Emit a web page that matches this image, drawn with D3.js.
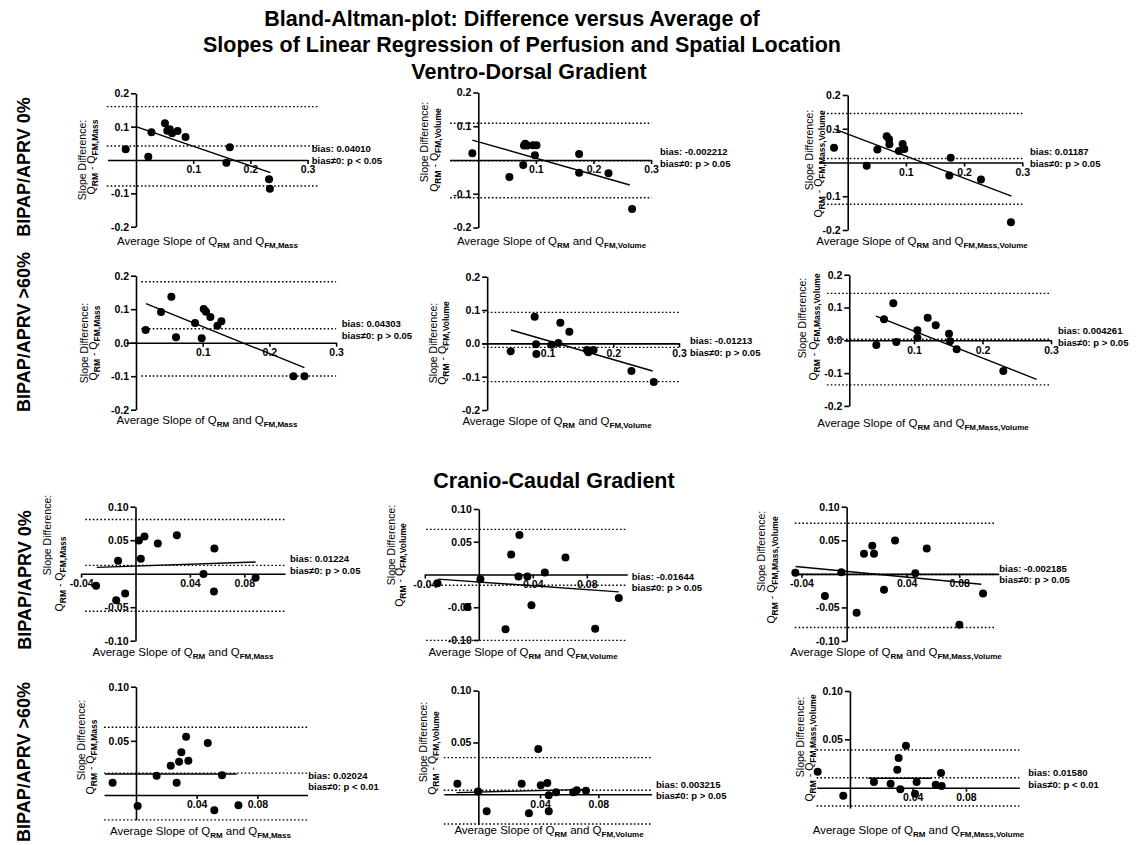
<!DOCTYPE html>
<html>
<head>
<meta charset="utf-8">
<script src="https://cdn.jsdelivr.net/npm/d3@7"></script>
<style>
  body { margin: 0; background: #fff; }
  svg text { font-family: "Liberation Sans", Arial, Helvetica, sans-serif; fill: #000; }
</style>
</head>
<body>
<div id="chart"></div>
<script>
// ---- Data: [average slope, slope difference] per subject ----
const vd0Mass = [[-0.018, 0.032], [0.0215, 0.010], [0.027, 0.083], [0.0506, 0.110], [0.0547, 0.088], [0.059, 0.092], [0.063, 0.080], [0.0727, 0.087], [0.0866, 0.069], [0.158, -0.008], [0.164, 0.038], [0.2326, -0.058], [0.234, -0.086]];
const vd0Volume = [[-0.0104, 0.0198], [0.054, -0.050], [0.078, -0.015], [0.0793, 0.043], [0.0815, 0.048], [0.085, 0.043], [0.095, 0.044], [0.101, 0.044], [0.0983, 0.0139], [0.175, 0.0178], [0.175, -0.0376], [0.226, -0.0396], [0.267, -0.1455]];
const vd0MassVolume = [[-0.0235, 0.0435], [0.0326, -0.0099], [0.051, 0.0385], [0.067, 0.078], [0.071, 0.069], [0.0716, 0.054], [0.088, 0.034], [0.0944, 0.055], [0.0973, 0.040], [0.177, 0.0138], [0.1746, -0.0385], [0.229, -0.050], [0.2805, -0.177]];
const vd60Mass = [[0.0145, 0.038], [0.0375, 0.0915], [0.053, 0.137], [0.06, 0.016], [0.0885, 0.059], [0.0985, 0.013], [0.1015, 0.1005], [0.105, 0.0925], [0.1115, 0.0766], [0.122, 0.0507], [0.128, 0.0637], [0.236, -0.1005], [0.2525, -0.1005]];
const vd60Volume = [[0.0438, -0.024], [0.0803, 0.080], [0.0824, -0.003], [0.0829, -0.032], [0.1062, -0.004], [0.1164, 0.001], [0.1194, 0.062], [0.1331, 0.035], [0.160, -0.020], [0.162, -0.027], [0.170, -0.020], [0.2276, -0.083], [0.2616, -0.116]];
const vd60MassVolume = [[0.045, -0.014], [0.0562, 0.064], [0.0698, 0.1127], [0.0742, -0.005], [0.1049, 0.0305], [0.1049, 0.008], [0.120, 0.069], [0.1317, 0.0457], [0.1511, 0.0203], [0.1526, -0.003], [0.1623, -0.0274], [0.2304, -0.0934]];
const cc0Mass = [[-0.029, -0.018], [-0.0142, -0.0395], [-0.0128, 0.0195], [-0.0076, -0.0295], [0.0025, 0.0495], [0.0039, 0.0225], [0.0066, 0.0555], [0.0164, 0.045], [0.0304, 0.0575], [0.050, -0.0005], [0.058, 0.0375], [0.0577, -0.0265], [0.0883, -0.006]];
const cc0Volume = [[-0.0306, -0.0133], [-0.0086, -0.0495], [0.0012, -0.0071], [0.0198, -0.0837], [0.024, 0.0306], [0.0294, -0.0031], [0.0301, 0.0602], [0.036, -0.0031], [0.039, -0.0469], [0.0489, 0.0031], [0.0642, 0.026], [0.0862, -0.0827], [0.1037, -0.0357]];
const cc0MassVolume = [[-0.0446, 0.0015], [-0.0221, -0.0328], [-0.0096, 0.0025], [0.002, -0.058], [0.0076, 0.0298], [0.0139, 0.0417], [0.0152, 0.0298], [0.0228, -0.0238], [0.0312, 0.0496], [0.0466, 0.001], [0.0553, 0.0377], [0.0801, -0.0759], [0.0981, -0.0293]];
const cc60Mass = [[-0.0154, 0.0114], [0.0011, -0.0102], [0.0136, 0.0178], [0.0229, 0.0271], [0.0268, 0.0114], [0.0284, 0.0308], [0.0299, 0.0394], [0.033, 0.0538], [0.0345, 0.0317], [0.0473, 0.048], [0.0516, -0.0142], [0.0567, 0.0182], [0.0675, -0.0095]];
const cc60Volume = [[-0.0167, 0.0103], [-0.0025, 0.0026], [0.0034, -0.0164], [0.0274, 0.0103], [0.0324, -0.0183], [0.0388, 0.0437], [0.0405, 0.0087], [0.045, 0.0109], [0.046, -0.001], [0.046, -0.0164], [0.051, 0.0019], [0.0628, 0.0019], [0.0652, 0.0039], [0.0715, 0.0035]];
const cc60MassVolume = [[-0.0312, 0.0166], [-0.012, -0.0083], [0.011, 0.0059], [0.0235, 0.0041], [0.0285, 0.0186], [0.0295, 0.0307], [0.0308, -0.0017], [0.035, 0.0434], [0.0418, -0.0062], [0.043, 0.0059], [0.0573, 0.0031], [0.0613, 0.0152], [0.0618, 0.0017]];

const panelPoints = [vd0Mass, vd0Volume, vd0MassVolume, vd60Mass, vd60Volume, vd60MassVolume,
  cc0Mass, cc0Volume, cc0MassVolume, cc60Mass, cc60Volume, cc60MassVolume];

// regression line ends [x1, y1, x2, y2]
const regressionLines = [
  [0, 0.100, 0.235, -0.038], [-0.0104, 0.059, 0.263, -0.074], [-0.0235, 0.0998, 0.2816, -0.0998],
  [0.015, 0.1164, 0.2525, -0.0746], [0.0443, 0.040, 0.260, -0.083], [0.0445, 0.074, 0.279, -0.119],
  [-0.0285, 0.0095, 0.0883, 0.0175], [-0.0301, -0.0071, 0.1037, -0.0265], [-0.0444, 0.0109, 0.0968, -0.0154],
  [-0.0204, 0.0194, 0.0664, 0.0194], [-0.0173, 0.0016, 0.0719, 0.0048], [0.0068, 0.0097, 0.0543, 0.0097]
];

// [upper limit, bias, lower limit]
const limitLines = [
  [0.160, 0.042, -0.078], [0.109, -0.002, -0.112], [0.145, 0.012, -0.1235],
  [0.182, 0.0418, -0.0995], [0.093, -0.012, -0.115], [0.143, 0.003, -0.136],
  [0.081, 0.0125, -0.056], [0.0689, -0.0163, -0.1005], [0.0754, -0.001, -0.0799],
  [0.0625, 0.0202, -0.023], [0.0354, 0.0039, -0.0286], [0.039, 0.0103, -0.019]
];
const limitExtent = [
  [-0.051, 0.318], [-0.049, 0.301], [-0.042, 0.3], [0.008, 0.3], [0.002, 0.3], [-0.027, 0.3],
  [-0.037, 0.11], [-0.039, 0.11], [-0.045, 0.108], [-0.021, 0.113], [-0.026, 0.117], [-0.032, 0.12]
];

const biasLabels = ["bias: 0.04010", "bias: -0.002212", "bias: 0.01187", "bias: 0.04303", "bias: -0.01213", "bias: 0.004261",
  "bias: 0.01224", "bias: -0.01644", "bias: -0.002185", "bias: 0.02024", "bias: 0.003215", "bias: 0.01580"];
const pLabels = ["bias\u22600: p < 0.05", "bias\u22600: p > 0.05", "bias\u22600: p > 0.05", "bias\u22600: p > 0.05",
  "bias\u22600: p > 0.05", "bias\u22600: p > 0.05", "bias\u22600: p > 0.05", "bias\u22600: p > 0.05",
  "bias\u22600: p > 0.05", "bias\u22600: p < 0.01", "bias\u22600: p > 0.05", "bias\u22600: p < 0.01"];

const methodSubs = ["FM,Mass", "FM,Volume", "FM,Mass,Volume"];
const rowLabels = ["BIPAP/APRV 0%", "BIPAP/APRV >60%", "BIPAP/APRV 0%", "BIPAP/APRV >60%"];
const titleLines = ["Bland-Altman-plot: Difference versus Average of",
  "Slopes of Linear Regression of Perfusion and Spatial Location", "Ventro-Dorsal Gradient"];
const sectionTitle2 = "Cranio-Caudal Gradient";

// axis domains, crossing and ticks per panel
const xDomains = [[-0.05, 0.3], [-0.05, 0.3], [-0.05, 0.3], [-0.015, 0.3], [0, 0.3], [0, 0.3],
  [-0.04, 0.11], [-0.04, 0.11], [-0.045, 0.11], [-0.021, 0.113], [-0.026, 0.1166], [-0.032, 0.12]];
const yDomains = [[-0.2, 0.2], [-0.2, 0.2], [-0.2, 0.2], [-0.2, 0.2], [-0.2, 0.2], [-0.2, 0.2],
  [-0.1, 0.1], [-0.1, 0.1], [-0.1, 0.1], [-0.023, 0.1], [-0.029, 0.1], [-0.021, 0.1]];
const yAxisCross = [0, 0, 0, 0, 0.008, 0.0055, 0, 0, -0.0056, 0, -0.0023, -0.007];

const xTicksVD = [0.1, 0.2, 0.3], xTickLabelsVD = ["0.1", "0.2", "0.3"];
const xTicksCC0 = [-0.04, 0.04, 0.08], xTickLabelsCC0 = ["-0.04", "0.04", "0.08"];
const xTicksCC60 = [0.04, 0.08], xTickLabelsCC60 = ["0.04", "0.08"];
const yTicksVD0 = [-0.2, -0.1, 0.1, 0.2], yTickLabelsVD0 = ["-0.2", "-0.1", "0.1", "0.2"];
const yTicksVD60 = [-0.2, -0.1, 0, 0.1, 0.2], yTickLabelsVD60 = ["-0.2", "-0.1", "0.0", "0.1", "0.2"];
const yTicksCC0 = [-0.1, -0.05, 0.05, 0.1], yTickLabelsCC0 = ["-0.10", "-0.05", "0.05", "0.10"];
const yTicksCC60 = [0.05, 0.1], yTickLabelsCC60 = ["0.05", "0.10"];

// ---- Layout (pixels) ----
const W = 1138, H = 845;
const layout = [
  { xPx: [107.4, 307.6], yPx: [93.3, 226.7], bias: [311.7, 152], yTitle: [82.5, 160, 95, 157], xTitle: [207.5, 245] },
  { xPx: [449.5, 651.1], yPx: [92.5, 227.5], bias: [660, 155], yTitle: [424, 142, 438, 150], xTitle: [551.5, 245] },
  { xPx: [818.6, 1022.3], yPx: [95, 230], bias: [1030, 155], yTitle: [809, 150, 822, 164], xTitle: [922, 245] },
  { xPx: [126, 336.1], yPx: [275.7, 409.7], bias: [341.7, 327], yTitle: [84, 343, 97, 343], xTitle: [207, 424] },
  { xPx: [481.9, 679], yPx: [276.7, 410], bias: [690, 344], yTitle: [433, 343, 446, 343], xTitle: [557, 425] },
  { xPx: [845.5, 1051], yPx: [274.7, 405.9], bias: [1058, 334], yTitle: [802, 318, 817, 327], xTitle: [923, 427] },
  { xPx: [81.1, 285.1], yPx: [506.7, 640.7], bias: [290, 562], yTitle: [47.5, 535, 63, 574], xTitle: [183, 656] },
  { xPx: [424.8, 627.3], yPx: [509, 640], bias: [631.7, 579.5], yTitle: [391, 545, 403, 565], xTitle: [523, 656] },
  { xPx: [794.8, 998.7], yPx: [506.7, 641], bias: [999.3, 571.5], yTitle: [761, 551, 775, 570], xTitle: [896, 656] },
  { xPx: [104.1, 307.5], yPx: [686.7, 819.9], bias: [308.3, 778.5], yTitle: [81, 740, 94, 757], xTitle: [200.5, 835] },
  { xPx: [443.8, 651.7], yPx: [690.6, 824.4], bias: [656, 787.5], yTitle: [423, 742, 436, 753], xTitle: [549, 834] },
  { xPx: [816.6, 1019.3], yPx: [691, 808], bias: [1028.3, 776], yTitle: [800, 737, 813, 748], xTitle: [918.5, 834] }
];
const rowLabelPos = [[24, 167], [24, 332], [25, 580], [24, 762]];
const titleCenters = [512, 522, 529];

const svg = d3.select("#chart").append("svg").attr("width", W).attr("height", H);

// Text with bold subscripts, parts = [[text, isSub], ...]
function richText(textSel, parts, mainSize, subSize) {
  let shift = 0;
  parts.forEach(([t, sub]) => {
    const target = sub ? 3 : 0;
    textSel.append("tspan")
      .attr("dy", target - shift)
      .style("font-size", (sub ? subSize : mainSize) + "px")
      .style("font-weight", sub ? "bold" : "normal")
      .text(t);
    shift = target;
  });
}

// Titles
titleLines.forEach((t, i) => {
  svg.append("text").attr("x", titleCenters[i]).attr("y", 25.5 + i * 26.5)
    .attr("text-anchor", "middle").style("font-size", "21.5px").style("font-weight", "bold").text(t);
});
svg.append("text").attr("x", 554).attr("y", 488)
  .attr("text-anchor", "middle").style("font-size", "21.5px").style("font-weight", "bold").text(sectionTitle2);

rowLabels.forEach((t, i) => {
  svg.append("text")
    .attr("transform", `translate(${rowLabelPos[i][0]},${rowLabelPos[i][1]}) rotate(-90)`)
    .attr("text-anchor", "middle").attr("dy", "0.35em")
    .style("font-size", "18px").style("font-weight", "bold").text(t);
});

function drawPanel(i) {
  const L = layout[i];
  const row = Math.floor(i / 3), col = i % 3;
  const sub = methodSubs[col];
  const g = svg.append("g").attr("class", "panel panel-" + i);

  const x = d3.scaleLinear().domain(xDomains[i]).range(L.xPx);
  const y = d3.scaleLinear().domain(yDomains[i]).range([L.yPx[1], L.yPx[0]]);

  // limits of agreement + bias (dotted)
  const ext = limitExtent[i];
  g.selectAll("line.limit").data(limitLines[i]).join("line")
    .attr("class", "limit")
    .attr("x1", x(ext[0])).attr("x2", x(ext[1]))
    .attr("y1", d => y(d)).attr("y2", d => y(d))
    .attr("stroke", "#000").attr("stroke-width", 1.4)
    .attr("stroke-dasharray", "1.6,2.2");

  let xTicks, xLabels, yTicks, yLabels;
  if (row < 2) { xTicks = xTicksVD; xLabels = xTickLabelsVD; }
  else if (row === 2) { xTicks = xTicksCC0; xLabels = xTickLabelsCC0; }
  else { xTicks = xTicksCC60; xLabels = xTickLabelsCC60; }
  if (row === 0) { yTicks = yTicksVD0; yLabels = yTickLabelsVD0; }
  else if (row === 1) { yTicks = yTicksVD60; yLabels = yTickLabelsVD60; }
  else if (row === 2) { yTicks = yTicksCC0; yLabels = yTickLabelsCC0; }
  else { yTicks = yTicksCC60; yLabels = yTickLabelsCC60; }

  const xAxis = d3.axisBottom(x).tickValues(xTicks)
    .tickFormat((d, k) => xLabels[k]).tickSizeInner(4).tickSizeOuter(0).tickPadding(2);
  const yAxis = d3.axisLeft(y).tickValues(yTicks)
    .tickFormat((d, k) => yLabels[k]).tickSizeInner(5).tickSizeOuter(0).tickPadding(2);

  const xg = g.append("g").attr("transform", `translate(0,${y(0)})`).call(xAxis);
  const yg = g.append("g").attr("transform", `translate(${x(yAxisCross[i])},0)`).call(yAxis);
  [xg, yg].forEach(a => {
    a.selectAll("path, line").attr("stroke", "#000").attr("stroke-width", 1.6);
    a.selectAll("text").style("font-size", "10.5px").style("font-weight", "bold")
      .style("font-family", '"Liberation Sans", Arial, sans-serif').attr("fill", "#000");
  });

  // regression line
  const r = regressionLines[i];
  g.append("line")
    .attr("x1", x(r[0])).attr("y1", y(r[1])).attr("x2", x(r[2])).attr("y2", y(r[3]))
    .attr("stroke", "#000").attr("stroke-width", 1.4);

  // points
  g.selectAll("circle").data(panelPoints[i]).join("circle")
    .attr("cx", d => x(d[0])).attr("cy", d => y(d[1])).attr("r", 4).attr("fill", "#000");

  // bias annotation
  g.append("text").attr("x", L.bias[0]).attr("y", L.bias[1])
    .style("font-size", "9.5px").style("font-weight", "bold").text(biasLabels[i]);
  g.append("text").attr("x", L.bias[0]).attr("y", L.bias[1] + 11.7)
    .style("font-size", "9.5px").style("font-weight", "bold").text(pLabels[i]);

  // y title (two lines, rotated)
  const yt = L.yTitle;
  g.append("text")
    .attr("transform", `translate(${yt[0]},${yt[1]}) rotate(-90)`)
    .attr("text-anchor", "middle").attr("dy", "0.35em")
    .style("font-size", "10.5px").text("Slope Difference:");
  const yt2 = g.append("text")
    .attr("transform", `translate(${yt[2]},${yt[3]}) rotate(-90)`)
    .attr("text-anchor", "middle").attr("dy", "0.35em");
  richText(yt2, [["Q", false], ["RM", true], [" - Q", false], [sub, true]], 10.5, 8.5);

  // x title
  const xt = g.append("text").attr("x", L.xTitle[0]).attr("y", L.xTitle[1]).attr("text-anchor", "middle");
  richText(xt, [["Average Slope of Q", false], ["RM", true], [" and Q", false], [sub, true]], 11.5, 8);
}

for (let i = 0; i < 12; i++) drawPanel(i);
</script>
</body>
</html>
